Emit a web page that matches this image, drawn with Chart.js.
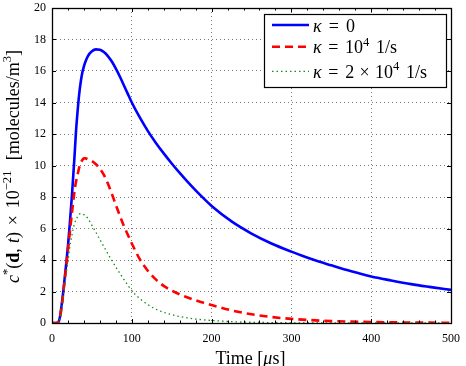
<!DOCTYPE html>
<html>
<head>
<meta charset="utf-8">
<script src="https://cdn.jsdelivr.net/npm/chart.js@4.4.1/dist/chart.umd.min.js"></script>
<style>
  html, body { margin: 0; padding: 0; background: #fff; }
  #wrap { width: 466px; height: 366px; position: relative; }
</style>
</head>
<body>
<div id="wrap"><canvas id="c" width="466" height="366"></canvas></div>
<script>
// ---- data ----
const times = [0, 5, 8, 10, 12, 14, 16, 18, 20, 22, 25, 28, 30, 32, 34, 36, 38, 40, 42, 45,
               50, 55, 60, 65, 70, 75, 80, 85, 90, 95, 100, 110, 120, 130, 140, 150, 160, 170, 180, 190, 200,
               225, 250, 275, 300, 325, 350, 375, 400, 425, 450, 475, 500];
const kappa0 = [0, 0, 0.05, 0.4, 1.1, 1.95, 2.9, 3.85, 4.9, 6.1, 8.1, 10.4, 12.1, 13.4, 14.5, 15.3, 15.9, 16.3, 16.6, 16.95,
                17.25, 17.37, 17.35, 17.2, 16.95, 16.6, 16.15, 15.65, 15.1, 14.55, 14.0, 13.05, 12.2, 11.45, 10.77, 10.13, 9.53, 8.96, 8.42, 7.91, 7.43,
                6.45, 5.68, 5.05, 4.53, 4.06, 3.66, 3.28, 2.95, 2.7, 2.47, 2.28, 2.1];
const kappa1e4 = [0, 0, 0.05, 0.35, 1.0, 1.85, 2.75, 3.7, 4.65, 5.6, 7.0, 8.3, 8.95, 9.4, 9.85, 10.15, 10.35, 10.45, 10.45, 10.4,
                  10.28, 10.08, 9.8, 9.4, 8.85, 8.2, 7.5, 6.82, 6.18, 5.6, 5.05, 4.05, 3.32, 2.77, 2.36, 2.06, 1.82, 1.62, 1.44, 1.28, 1.14,
                  0.8, 0.55, 0.38, 0.26, 0.18, 0.12, 0.085, 0.06, 0.042, 0.03, 0.021, 0.015];
const kappa2e4 = [0, 0, 0.05, 0.3, 0.9, 1.6, 2.4, 3.2, 3.9, 4.7, 5.6, 6.25, 6.55, 6.75, 6.9, 6.95, 6.93, 6.88, 6.8, 6.63,
                  6.2, 5.76, 5.3, 4.85, 4.4, 3.97, 3.55, 3.15, 2.77, 2.4, 2.05, 1.55, 1.17, 0.88, 0.68, 0.53, 0.41, 0.32, 0.25, 0.2, 0.16,
                  0.085, 0.045, 0.024, 0.012, 0.006, 0.003, 0.001, 0, 0, 0, 0, 0];
const xTicks = [0, 100, 200, 300, 400, 500];
const yTicks = [0, 2, 4, 6, 8, 10, 12, 14, 16, 18, 20];
const seriesLabels = ['κ = 0', 'κ = 10⁴ 1/s', 'κ = 2 × 10⁴ 1/s'];

const SERIF = "'Liberation Serif', 'Times New Roman', serif";

function pts(vals) { return times.map((t, i) => ({ x: t, y: vals[i] })); }

// rich text helper: segs = [{t, it, b, sup, gap}]
function segFont(s, size) {
  const sz = s.sup ? size * 0.7 : size;
  return (s.it ? 'italic ' : '') + (s.b ? 'bold ' : '') + sz.toFixed(2) + 'px ' + SERIF;
}
function fitRich(ctx, segs, size, target) {
  let w = 0, g = 0;
  for (const s of segs) { ctx.font = segFont(s, size); w += ctx.measureText(s.t).width; g += (s.gap || 0); }
  if (w > target) { size = size * target / w; return { size, unit: 0 }; }
  return { size, unit: g > 0 ? (target - w) / g : 0 };
}
function drawRich(ctx, segs, x, y, size, unit) {
  ctx.textBaseline = 'alphabetic';
  ctx.textAlign = 'left';
  for (const s of segs) {
    ctx.font = segFont(s, size);
    ctx.fillText(s.t, x, s.sup ? y - size * 0.42 : y);
    x += ctx.measureText(s.t).width + (s.gap || 0) * unit;
  }
  return x;
}

const legendSegs = [
  [{ t: 'κ', it: true, gap: 1 }, { t: '=', gap: 1 }, { t: '0' }],
  [{ t: 'κ', it: true, gap: 1 }, { t: '=', gap: 1 }, { t: '10' }, { t: '4', sup: true, gap: 1 }, { t: '1/s' }],
  [{ t: 'κ', it: true, gap: 1 }, { t: '=', gap: 1 }, { t: '2', gap: 0.8 }, { t: '×', gap: 0.8 }, { t: '10' }, { t: '4', sup: true, gap: 1 }, { t: '1/s' }]
];
const legendWidths = [42, 84, 114];

const decorPlugin = {
  id: 'decor',
  afterDatasetsDraw(chart) {
    const { ctx, chartArea: a, scales } = chart;
    const xs = scales.x, ys = scales.y;
    ctx.save();
    ctx.strokeStyle = '#000';
    ctx.lineWidth = 1;
    ctx.beginPath();
    for (let v = 0; v <= 500; v += 20) {
      const px = Math.round(xs.getPixelForValue(v)) + 0.5;
      const len = (v % 100 === 0) ? 4 : 2.5;
      ctx.moveTo(px, a.bottom); ctx.lineTo(px, a.bottom - len);
      ctx.moveTo(px, a.top); ctx.lineTo(px, a.top + len);
    }
    for (const v of yTicks) {
      const py = Math.round(ys.getPixelForValue(v)) + 0.5;
      ctx.moveTo(a.left, py); ctx.lineTo(a.left + 4, py);
      ctx.moveTo(a.right, py); ctx.lineTo(a.right - 4, py);
    }
    ctx.stroke();
    ctx.lineWidth = 1.3;
    ctx.strokeRect(Math.round(a.left) + 0.5, Math.round(a.top) + 0.5,
                   Math.round(a.right - a.left), Math.round(a.bottom - a.top));
    ctx.restore();
  },
  afterDraw(chart) {
    const { ctx, chartArea: a } = chart;
    ctx.save();
    ctx.fillStyle = '#000';
    // x title
    const xt = [{ t: 'Time [' }, { t: 'μ', it: true }, { t: 's]' }];
    const xf = fitRich(ctx, xt, 18, 72);
    drawRich(ctx, xt, (a.left + a.right) / 2 - 36, 364, xf.size, xf.unit);
    // y title (rotated), spans 233 px centred on the plot
    const yt = [{ t: 'c', it: true }, { t: '*', sup: true }, { t: '(' }, { t: 'd', b: true }, { t: ',', gap: 0.6 },
                { t: 't', it: true }, { t: ')', gap: 0.8 }, { t: '×', gap: 0.8 }, { t: '10' }, { t: '−21', sup: true, gap: 1.2 },
                { t: '[molecules/m' }, { t: '3', sup: true }, { t: ']' }];
    const yf = fitRich(ctx, yt, 18, 233);
    ctx.save();
    ctx.translate(18.5, (a.top + a.bottom) / 2 + 1);
    ctx.rotate(-Math.PI / 2);
    drawRich(ctx, yt, -116.5, 0, yf.size, yf.unit);
    ctx.restore();
    // legend
    const bw = 182, bh = 73;
    const bx = a.right - 5 - bw, by = a.top + 6;
    ctx.fillStyle = '#fff';
    ctx.fillRect(bx, by, bw, bh);
    ctx.strokeStyle = '#000';
    ctx.lineWidth = 1.2;
    ctx.strokeRect(Math.round(bx) + 0.5, Math.round(by) + 0.5, bw, bh);
    const rows = [by + 11, by + 32.7, by + 57.3];
    chart.data.datasets.forEach((ds, i) => {
      ctx.save();
      ctx.strokeStyle = ds.borderColor;
      ctx.lineWidth = ds.borderWidth;
      ctx.setLineDash(ds.borderDash || []);
      ctx.beginPath();
      ctx.moveTo(bx + 8, rows[i]);
      ctx.lineTo(bx + 45, rows[i]);
      ctx.stroke();
      ctx.restore();
      ctx.fillStyle = '#000';
      const f = fitRich(ctx, legendSegs[i], 18, legendWidths[i]);
      drawRich(ctx, legendSegs[i], bx + 49, rows[i] + 6.5, f.size, f.unit);
    });
    ctx.restore();
  }
};

new Chart(document.getElementById('c'), {
  type: 'line',
  data: {
    datasets: [
      { label: seriesLabels[0], data: pts(kappa0), borderColor: '#0000ff', borderWidth: 2.6,
        pointRadius: 0, fill: false, cubicInterpolationMode: 'monotone', order: 3 },
      { label: seriesLabels[1], data: pts(kappa1e4), borderColor: '#ff0000', borderWidth: 2.6, borderDash: [8, 5],
        pointRadius: 0, fill: false, cubicInterpolationMode: 'monotone', order: 2 },
      { label: seriesLabels[2], data: pts(kappa2e4), borderColor: '#1a8a1a', borderWidth: 1.3, borderDash: [1.5, 3],
        pointRadius: 0, fill: false, cubicInterpolationMode: 'monotone', order: 1 }
    ]
  },
  options: {
    responsive: false,
    animation: false,
    devicePixelRatio: 1,
    layout: { padding: { top: 8, right: 15, left: 0, bottom: 0 } },
    plugins: { legend: { display: false }, tooltip: { enabled: false }, title: { display: false } },
    scales: {
      x: {
        type: 'linear', min: 0, max: 500,
        afterBuildTicks(s) { s.ticks = xTicks.map(v => ({ value: v })); },
        afterFit(s) { s.height = 43; s.paddingLeft = 0; s.paddingRight = 0; },
        ticks: { font: { family: SERIF, size: 12 }, color: '#000', padding: 9, maxRotation: 0 },
        grid: { color: '#555', lineWidth: 0.8, drawTicks: false },
        border: { display: false, dash: [1, 3] }
      },
      y: {
        type: 'linear', min: 0, max: 20,
        afterBuildTicks(s) { s.ticks = yTicks.map(v => ({ value: v })); },
        afterFit(s) { s.width = 52; s.paddingTop = 0; s.paddingBottom = 0; },
        ticks: { font: { family: SERIF, size: 12 }, color: '#000', padding: 6 },
        grid: { color: '#555', lineWidth: 0.8, drawTicks: false },
        border: { display: false, dash: [1, 3] }
      }
    }
  },
  plugins: [decorPlugin]
});
</script>
</body>
</html>
